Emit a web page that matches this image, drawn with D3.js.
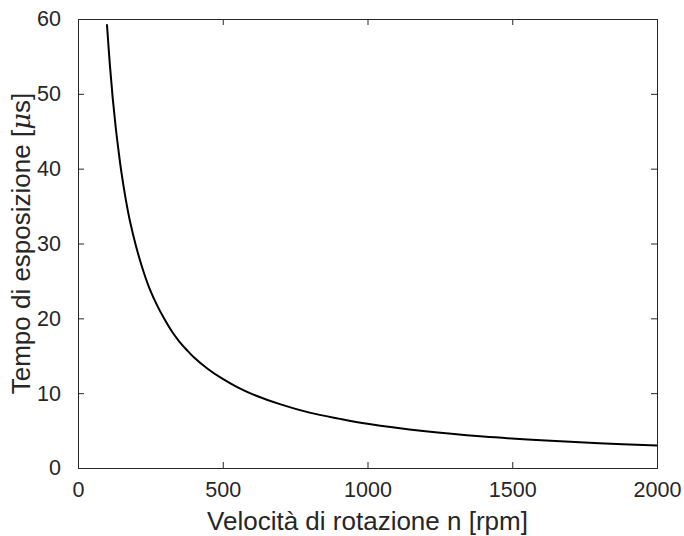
<!DOCTYPE html>
<html>
<head>
<meta charset="utf-8">
<script src="https://cdn.jsdelivr.net/npm/d3@7"></script>
<style>
  html, body { margin: 0; padding: 0; background: #fff; }
  svg { display: block; }
</style>
</head>
<body>
<svg id="chart"></svg>
<script>
// velocità di rotazione [rpm]
const speeds = [100, 110, 120, 130, 140, 150, 165, 180, 200, 225, 250, 275, 300, 325, 350, 375, 400, 450, 500,
  550, 600, 700, 800, 900, 1000, 1200, 1400, 1600, 1800, 2000];
// tempo di esposizione [µs]
const times = [59.3, 53.9, 49.4, 45.6, 42.4, 39.5, 35.9, 32.9, 29.7, 26.4, 23.7, 21.6, 19.8, 18.2, 16.9, 15.8, 14.8, 13.2, 11.9,
  10.8, 9.9, 8.5, 7.4, 6.6, 5.9, 4.9, 4.2, 3.7, 3.3, 3.0];
const xTicks = [0, 500, 1000, 1500, 2000];
const yTicks = [0, 10, 20, 30, 40, 50, 60];

const width = 684;
const height = 536;
const margin = { top: 19, right: 27, bottom: 68, left: 78 };
const axisColor = '#262626';
const font = 'Liberation Sans, Arial, Helvetica, sans-serif';

const svg = d3.select('#chart')
  .attr('width', width)
  .attr('height', height);

const w = width - margin.left - margin.right;
const h = height - margin.top - margin.bottom;

const g = svg.append('g')
  .attr('transform', `translate(${margin.left} ${margin.top})`);

const x = d3.scaleLinear().domain([0, 2000]).range([0, w]);
const y = d3.scaleLinear().domain([0, 60]).range([h, 0]);

// assi (tick verso l'interno, ripetuti sul lato opposto)
function styleAxis(sel, showText) {
  sel.select('.domain').remove();
  sel.selectAll('line').attr('stroke', axisColor);
  sel.selectAll('text')
    .attr('fill', axisColor)
    .style('font-family', font)
    .style('font-size', '21.5px');
  if (!showText) sel.selectAll('text').remove();
}

const fmt = d3.format('d');

g.append('g')
  .attr('transform', `translate(0 ${h})`)
  .call(d3.axisBottom(x).tickValues(xTicks).tickFormat(fmt).tickSizeInner(-6).tickSizeOuter(0).tickPadding(14))
  .call(s => styleAxis(s, true));

g.append('g')
  .call(d3.axisTop(x).tickValues(xTicks).tickSizeInner(-6).tickSizeOuter(0))
  .call(s => styleAxis(s, false));

g.append('g')
  .call(d3.axisLeft(y).tickValues(yTicks).tickFormat(fmt).tickSizeInner(-6).tickSizeOuter(0).tickPadding(17))
  .call(s => styleAxis(s, true));

g.append('g')
  .attr('transform', `translate(${w} 0)`)
  .call(d3.axisRight(y).tickValues(yTicks).tickSizeInner(-6).tickSizeOuter(0))
  .call(s => styleAxis(s, false));

// box
g.append('rect')
  .attr('x', 0.5)
  .attr('y', 0.5)
  .attr('width', w)
  .attr('height', h)
  .attr('fill', 'none')
  .attr('stroke', axisColor)
  .attr('stroke-width', 1);

// curva
const line = d3.line()
  .x((d, i) => x(speeds[i]))
  .y(d => y(d))
  .curve(d3.curveCatmullRom);

g.append('path')
  .datum(times)
  .attr('fill', 'none')
  .attr('stroke', '#000')
  .attr('stroke-width', 2)
  .attr('d', line);

// etichette
svg.append('text')
  .attr('x', margin.left + w / 2)
  .attr('y', height - 6)
  .attr('text-anchor', 'middle')
  .attr('fill', axisColor)
  .style('font-family', font)
  .style('font-size', '26px')
  .text('Velocità di rotazione n [rpm]');

const yl = svg.append('text')
  .attr('transform', `translate(30 ${margin.top + h / 2}) rotate(-90)`)
  .attr('text-anchor', 'middle')
  .attr('fill', axisColor)
  .style('font-family', font)
  .style('font-size', '26px');
yl.append('tspan').text('Tempo di esposizione [');
yl.append('tspan').style('font-family', 'DejaVu Serif, serif').style('font-style', 'italic').text('μ');
yl.append('tspan').text('s]');
</script>
</body>
</html>
